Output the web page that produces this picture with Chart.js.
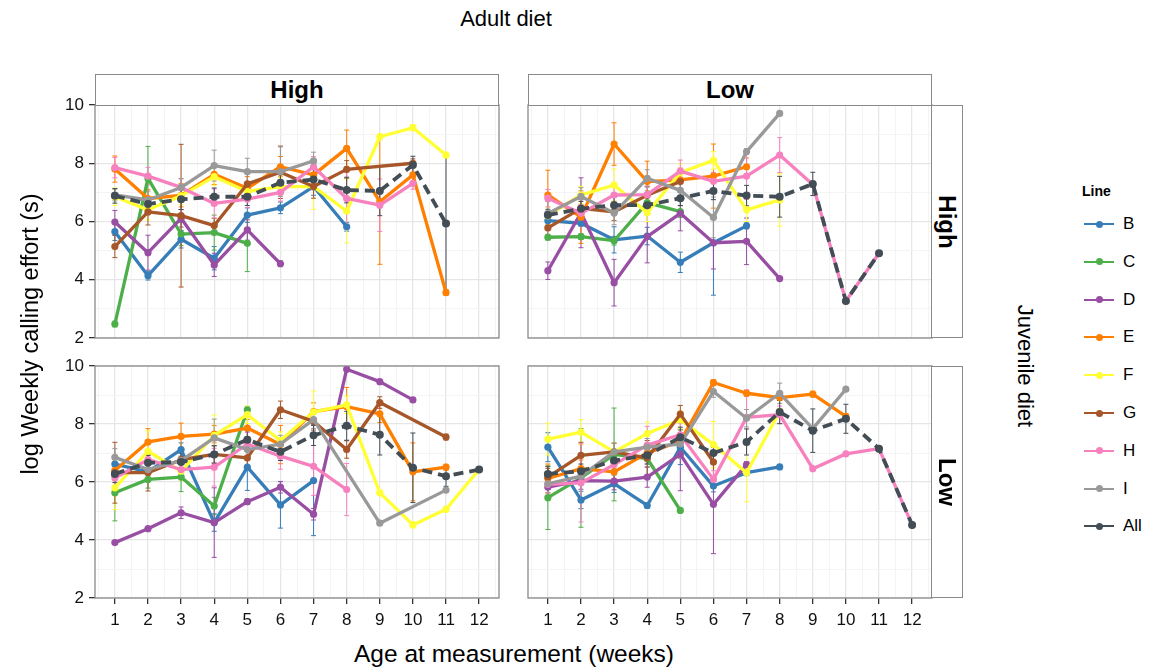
<!DOCTYPE html>
<html>
<head>
<meta charset="utf-8">
<script src="https://cdn.jsdelivr.net/npm/chart.js@4.4.1/dist/chart.umd.min.js"></script>
<style>
  body { margin: 0; background: #fff; font-family: "Liberation Sans", Arial, sans-serif; color: #000; }
  #wrap { position: relative; width: 1152px; height: 672px; overflow: hidden; }
  #wrap canvas, .txt, .strip, .kline, .kdot { position: absolute; }
  .strip { box-sizing: border-box; border: 1px solid #8a8a8a; background: #fff;
           font-weight: bold; font-size: 24px; display: flex; align-items: center; justify-content: center; }
  .vert span { display: inline-block; transform: rotate(90deg); white-space: nowrap; }
  .txt { white-space: nowrap; text-align: center; }
  .kline { height: 2px; width: 30px; }
  .kdot { width: 7px; height: 7px; border-radius: 50%; }
</style>
</head>
<body>
<div id="wrap"></div>
<script>

// =======================================
// DATA
// =======================================

const weeks = [1, 2, 3, 4, 5, 6, 7, 8, 9, 10, 11, 12];
const lines = ['B', 'C', 'D', 'E', 'F', 'G', 'H', 'I', 'All'];
const yTicks = [2, 3, 4, 5, 6, 7, 8, 9, 10];
const yLabels = [2, 4, 6, 8, 10];

const adultDiets = ['High', 'Low'];
const juvenileDiets = ['High', 'Low'];

// adult High, juvenile High (top left)
const meanAHJH = [
    [5.65, 4.14, 5.39, 4.74, 6.22, 6.47, 7.2, 5.82, null, null, null, null],
    [2.48, 7.48, 5.57, 5.62, 5.25, null, null, null, null, null, null, null],
    [5.98, 4.93, 6.11, 4.51, 5.71, 4.55, null, null, null, null, null, null],
    [7.8, 6.79, 6.9, 7.62, 7.14, 7.88, 7.6, 8.51, 6.68, 7.6, 3.56, null],
    [6.85, 6.4, 6.88, 7.54, 7.03, 7.2, 7.2, 6.36, 8.91, 9.22, 8.28, null],
    [5.14, 6.33, 6.2, 5.86, 7.29, 7.69, 7.2, 7.79, null, 8.0, null, null],
    [7.85, 7.56, 7.17, 6.62, 6.77, 7.0, 7.88, 6.79, 6.56, 7.31, null, null],
    [6.91, 6.74, 7.17, 7.92, 7.71, 7.71, 8.08, null, null, null, null, null],
    [6.88, 6.6, 6.76, 6.85, 6.85, 7.33, 7.44, 7.08, 7.05, 7.94, 5.93, null]
];
const errAHJH = [
    [0.3, 0.15, 0.3, 0.4, 0.25, 0.2, 0.3, 0.15, null, null, null, null],
    [0.1, 1.1, 0.4, 0.6, 0.97, null, null, null, null, null, null, null],
    [0.4, 0.6, 0.3, 0.4, 0.35, 0.1, null, null, null, null, null, null],
    [0.45, 0.3, 0.4, 0.35, 0.4, 0.35, 0.3, 0.63, 2.15, 0.3, 0.1, null],
    [0.3, 0.35, 0.3, 0.3, 0.3, 0.3, 0.78, 1.1, 0.1, 0.1, 0.1, null],
    [0.38, 0.45, 2.45, 0.25, 0.4, 0.9, 0.4, 0.3, null, 0.15, null, null],
    [0.35, 0.3, 0.3, 0.5, 0.3, 0.3, 0.35, 0.9, 0.9, 0.2, null, null],
    [0.2, 0.3, 0.3, 0.53, 0.46, 0.85, 0.3, null, null, null, null, null],
    [0.25, 0.2, 0.35, 0.3, 0.3, 0.35, 0.35, 0.44, 0.85, 0.3, 2.35, null]
];

// adult Low, juvenile High (top right)
const meanALJH = [
    [6.03, 5.94, 5.37, 5.5, 4.6, 5.27, 5.85, null, null, null, null, null],
    [5.46, 5.48, 5.34, 6.65, 6.34, null, null, null, null, null, null, null],
    [4.31, 6.3, 3.9, 5.48, 6.28, 5.27, 5.32, 4.04, null, null, null, null],
    [6.91, 6.15, 8.66, 7.37, 7.43, 7.56, 7.88, null, null, null, null, null],
    [6.2, 6.91, 7.25, 6.3, 7.68, 8.1, 6.4, 6.74, null, null, null, null],
    [5.78, 6.45, 6.33, 6.9, 7.37, null, null, null, null, null, null, null],
    [6.8, 6.28, 6.91, 6.92, 7.73, 7.38, 7.56, 8.28, 7.27, 3.27, 4.91, null],
    [6.28, 6.86, 6.29, 7.48, 7.07, 6.14, 8.4, 9.71, null, null, null, null],
    [6.22, 6.44, 6.56, 6.56, 6.8, 7.05, 6.89, 6.85, 7.29, 3.27, 4.91, null]
];
const errALJH = [
    [0.15, 0.1, 0.45, 0.3, 0.35, 1.8, 0.1, null, null, null, null, null],
    [0.1, 0.1, 0.15, 0.4, 0.2, null, null, null, null, null, null, null],
    [0.3, 1.2, 0.8, 0.9, 0.6, 0.9, 0.8, 0.05, null, null, null, null],
    [0.85, 0.9, 0.73, 0.7, 0.4, 1.1, 0.3, null, null, null, null, null],
    [0.3, 0.3, 0.55, 0.3, 0.3, 0.3, 0.4, 0.9, null, null, null, null],
    [0.4, 0.3, 0.3, 0.3, 0.3, null, null, null, null, null, null, null],
    [0.3, 0.3, 0.3, 0.3, 0.38, 0.3, 0.8, 0.6, 0.1, null, null, null],
    [0.4, 0.3, 0.4, 0.3, 0.3, 0.7, 0.1, 0.05, null, null, null, null],
    [0.2, 0.25, 0.3, 0.3, 0.25, 0.3, 0.35, 0.7, 0.4, null, null, null]
];

// adult High, juvenile Low (bottom left)
const meanAHJL = [
    [6.62, 6.35, 7.12, 4.6, 6.51, 5.21, 6.05, null, null, null, null, null],
    [5.63, 6.09, 6.17, 5.17, 8.49, null, null, null, null, null, null, null],
    [3.91, 4.39, 4.94, 4.6, 5.32, 5.82, 4.89, 9.89, 9.46, 8.83, null, null],
    [6.4, 7.38, 7.57, 7.65, 7.86, 7.29, 8.43, 8.6, 8.35, 6.35, 6.51, null],
    [5.8, 7.06, 6.37, 7.61, 8.32, 7.43, 8.41, 8.66, 5.63, 4.52, 5.06, 6.43],
    [6.32, 6.32, 6.77, 6.95, 6.83, 8.49, 8.09, 7.12, 8.74, null, 7.55, null],
    [6.14, 6.77, 6.43, 6.51, 7.31, 6.89, 6.54, 5.74, null, null, null, null],
    [6.85, 6.43, 6.74, 7.52, 7.12, 7.31, 8.15, null, 4.58, null, 5.72, null],
    [6.28, 6.66, 6.69, 6.95, 7.46, 7.04, 7.61, 7.94, 7.63, 6.49, 6.2, 6.43]
];
const errAHJL = [
    [0.2, 0.3, 0.23, 0.3, 0.8, 0.8, 1.9, null, null, null, null, null],
    [0.97, 0.3, 0.5, 0.3, 0.1, null, null, null, null, null, null, null],
    [0.05, 0.05, 0.2, 1.2, 0.1, 0.2, 0.2, 0.05, 0.05, 0.05, null, null],
    [0.3, 0.46, 0.46, 0.3, 0.3, 0.66, 0.3, 0.66, 0.3, 1.0, 0.1, null],
    [0.75, 0.7, 0.3, 0.7, 0.3, 0.3, 0.73, 0.3, 0.1, 0.1, 0.1, null],
    [1.05, 0.63, 0.3, 0.3, 0.3, 0.3, 0.3, 0.3, 0.2, null, 0.1, null],
    [0.3, 0.3, 0.3, 0.65, 0.4, 0.45, 1.0, 0.9, null, null, null, null],
    [0.3, 0.3, 0.3, 0.65, 0.3, 0.3, 0.3, null, 0.05, null, 0.05, null],
    [0.3, 0.25, 0.3, 0.3, 0.3, 0.3, 0.35, 0.5, 0.7, 1.2, 0.35, null]
];

// adult Low, juvenile Low (bottom right)
const meanALJL = [
    [7.2, 5.38, 5.94, 5.19, 7.2, 5.86, 6.32, 6.52, null, null, null, null],
    [5.46, 6.14, 6.95, 6.81, 5.02, null, null, null, null, null, null, null],
    [5.82, 6.05, 6.03, 6.17, 6.95, 5.23, 6.6, null, null, null, null, null],
    [6.12, 6.46, 6.35, 7.0, 7.4, 9.43, 9.06, 8.91, 9.03, 8.26, null, null],
    [7.48, 7.72, 7.04, 7.67, 8.15, 7.29, 6.32, 8.43, null, null, null, null],
    [6.17, 6.92, 7.04, 6.83, 8.34, 6.69, null, null, null, null, null, null],
    [5.92, 5.97, 6.6, 7.27, 7.63, 6.09, 8.23, 8.32, 6.46, 6.97, 7.15, 4.52],
    [5.94, 6.2, 7.04, 7.2, 7.31, 9.12, 8.2, 9.06, 7.84, 9.2, null, null],
    [6.28, 6.37, 6.74, 6.92, 7.54, 7.0, 7.38, 8.41, 7.77, 8.18, 7.15, 4.52]
];
const errALJL = [
    [0.5, 0.3, 0.3, 0.1, 0.6, 0.2, 0.1, 0.05, null, null, null, null],
    [1.1, 1.7, 1.6, 0.3, 0.05, null, null, null, null, null, null, null],
    [0.3, 0.3, 0.3, 0.35, 1.25, 1.7, 0.1, null, null, null, null, null],
    [0.5, 0.3, 0.3, 0.3, 0.4, 0.1, 0.1, 0.1, 0.1, 0.1, null, null],
    [0.55, 0.43, 0.3, 0.4, 0.3, 0.8, 1.0, 0.1, null, null, null, null],
    [0.3, 0.45, 0.3, 0.6, 0.3, 0.5, null, null, null, null, null, null],
    [0.3, 1.35, 0.3, 0.65, 0.5, 0.3, 0.95, 0.3, 0.05, 0.05, 0.05, null],
    [0.3, 0.3, 0.3, 0.3, 0.5, 0.2, 0.3, 0.35, 0.1, 0.05, null, null],
    [0.25, 0.25, 0.3, 0.3, 0.35, 0.35, 0.45, 0.4, 0.75, 0.5, null, null]
];

// =======================================
// STYLE
// =======================================

const colours = ['#377EB8', '#4DAF4A', '#984EA3', '#FF7F00', '#FFFF33',
                 '#A65628', '#F781BF', '#999999', '#424D55'];
const FONT = '"Liberation Sans", Arial, sans-serif';
const GRID_MAJOR = '#e6e6e6';
const GRID_MINOR = '#f4f4f4';
const FRAME = '#8a8a8a';

// panel boxes (chart area in page pixels)
const panels = [
    { left: 95,  top: 105, w: 404, h: 233, yAxis: true,  xAxis: false, mean: meanAHJH, err: errAHJH },
    { left: 528, top: 105, w: 404, h: 233, yAxis: false, xAxis: false, mean: meanALJH, err: errALJH },
    { left: 95,  top: 366, w: 404, h: 232, yAxis: true,  xAxis: true,  mean: meanAHJL, err: errAHJL },
    { left: 528, top: 366, w: 404, h: 232, yAxis: false, xAxis: true,  mean: meanALJL, err: errALJL }
];

const PAD = 10;
const Y_W = 45;
const X_H = 30;

const wrap = document.getElementById('wrap');

// =======================================
// PLUGINS
// =======================================

const errorBars = {
    id: 'errorBars',
    beforeDatasetsDraw(chart) {
        const { ctx, scales: { x, y } } = chart;
        ctx.save();
        ctx.lineWidth = 1;
        chart.data.datasets.forEach(ds => {
            ctx.strokeStyle = ds.borderColor;
            ds.data.forEach(p => {
                if (p.e == null) return;
                const px = x.getPixelForValue(p.x);
                const y1 = y.getPixelForValue(p.y + p.e);
                const y2 = y.getPixelForValue(p.y - p.e);
                ctx.beginPath();
                ctx.moveTo(px, y1); ctx.lineTo(px, y2);
                ctx.moveTo(px - 2.5, y1); ctx.lineTo(px + 2.5, y1);
                ctx.moveTo(px - 2.5, y2); ctx.lineTo(px + 2.5, y2);
                ctx.stroke();
            });
        });
        ctx.restore();
    }
};

const frame = {
    id: 'frame',
    afterDraw(chart) {
        const a = chart.chartArea;
        const ctx = chart.ctx;
        ctx.save();
        ctx.strokeStyle = FRAME;
        ctx.lineWidth = 1.3;
        ctx.strokeRect(a.left, a.top, a.right - a.left, a.bottom - a.top);
        ctx.restore();
    }
};

// =======================================
// PANELS
// =======================================

const xGrid = weeks.flatMap(w => [w - 0.5, w]).concat([weeks[weeks.length - 1] + 0.5]);

function makePanel(p) {

    let cv = document.createElement('canvas');
    let leftM = p.yAxis ? Y_W : 0;
    let botM = p.xAxis ? X_H : 0;
    let cw = p.w + 2 * PAD + leftM;
    let ch = p.h + 2 * PAD + botM;
    cv.width = cw; cv.height = ch;
    cv.style.width = cw + 'px'; cv.style.height = ch + 'px';
    cv.style.left = (p.left - PAD - leftM) + 'px';
    cv.style.top = (p.top - PAD) + 'px';
    wrap.appendChild(cv);

    let datasets = lines.map((name, i) => {
        let pts = [];
        weeks.forEach((w, j) => {
            if (p.mean[i][j] != null) pts.push({ x: w, y: p.mean[i][j], e: p.err[i][j] });
        });
        let isAll = name === 'All';
        return {
            label: name,
            data: pts,
            borderColor: colours[i],
            backgroundColor: colours[i],
            pointBackgroundColor: colours[i],
            borderWidth: isAll ? 3.8 : 3.3,
            borderDash: isAll ? [10, 6] : [],
            borderJoinStyle: 'round',
            pointRadius: isAll ? 4 : 3.6,
            pointBorderWidth: 0,
            order: lines.length - i,
            tension: 0
        };
    });

    new Chart(cv.getContext('2d'), {
        type: 'line',
        data: { datasets },
        options: {
            responsive: false,
            animation: false,
            events: [],
            layout: { padding: PAD },
            plugins: { legend: { display: false }, tooltip: { enabled: false } },
            scales: {
                x: {
                    type: 'linear',
                    min: 0.4,
                    max: 12.6,
                    afterBuildTicks: s => { s.ticks = xGrid.map(v => ({ value: v })); },
                    afterFit: s => { s.height = botM; s.paddingLeft = 0; s.paddingRight = 0; },
                    border: { display: false },
                    grid: {
                        color: c => Number.isInteger(c.tick.value) ? GRID_MAJOR : GRID_MINOR,
                        lineWidth: c => Number.isInteger(c.tick.value) ? 1.3 : 1,
                        drawTicks: p.xAxis,
                        tickLength: 6,
                        tickColor: c => Number.isInteger(c.tick.value) ? '#333' : 'rgba(0,0,0,0)',
                        tickWidth: 1.3
                    },
                    ticks: {
                        display: p.xAxis,
                        autoSkip: false,
                        maxRotation: 0,
                        minRotation: 0,
                        padding: 6,
                        color: '#111',
                        font: { family: FONT, size: 17 },
                        callback: v => Number.isInteger(v) ? String(v) : ''
                    }
                },
                y: {
                    type: 'linear',
                    min: 2,
                    max: 10,
                    afterBuildTicks: s => { s.ticks = yTicks.map(v => ({ value: v })); },
                    afterFit: s => { s.width = leftM; s.paddingTop = 0; s.paddingBottom = 0; },
                    border: { display: false },
                    grid: {
                        color: c => yLabels.includes(c.tick.value) ? GRID_MAJOR : GRID_MINOR,
                        lineWidth: c => yLabels.includes(c.tick.value) ? 1.3 : 1,
                        drawTicks: p.yAxis,
                        tickLength: 6,
                        tickColor: c => yLabels.includes(c.tick.value) ? '#333' : 'rgba(0,0,0,0)',
                        tickWidth: 1.3
                    },
                    ticks: {
                        display: p.yAxis,
                        autoSkip: false,
                        padding: 5,
                        color: '#111',
                        font: { family: FONT, size: 17 },
                        callback: v => yLabels.includes(v) ? String(v) : ''
                    }
                }
            }
        },
        plugins: [errorBars, frame]
    });
}

panels.forEach(makePanel);

// =======================================
// STRIPS, TITLES, LEGEND
// =======================================

function addDiv(cls, css, html) {
    let d = document.createElement('div');
    d.className = cls;
    Object.assign(d.style, css);
    d.innerHTML = html;
    wrap.appendChild(d);
    return d;
}

// top strips: adult diet
adultDiets.forEach((lab, i) => {
    let p = panels[i];
    addDiv('strip', { left: p.left + 'px', top: '74px', width: p.w + 'px', height: (p.top - 74 + 1) + 'px' }, lab);
});

// right strips: juvenile diet
juvenileDiets.forEach((lab, i) => {
    let p = panels[1 + 2 * i];
    addDiv('strip vert', { left: (p.left + p.w - 1) + 'px', top: p.top + 'px', width: '32px', height: p.h + 'px' },
        '<span>' + lab + '</span>');
});

addDiv('txt', { left: '356px', top: '6px', width: '300px', fontSize: '22px', lineHeight: '26px' }, 'Adult diet');

addDiv('txt', { left: '314px', top: '640px', width: '400px', fontSize: '24.5px', lineHeight: '28px' },
    'Age at measurement (weeks)');

addDiv('txt', { left: '-170px', top: '320px', width: '400px', fontSize: '23.5px', lineHeight: '28px',
    transform: 'rotate(-90deg)' }, 'log Weekly calling effort (s)');

addDiv('txt', { left: '875px', top: '353px', width: '300px', fontSize: '22px', lineHeight: '26px',
    transform: 'rotate(90deg)' }, 'Juvenile diet');

// legend
addDiv('txt', { left: '1082px', top: '182px', fontSize: '14px', fontWeight: 'bold', lineHeight: '18px', textAlign: 'left' }, 'Line');

lines.forEach((name, i) => {
    let cy = 224 + i * 37.8;
    addDiv('kline', { left: '1084px', top: (cy - 1) + 'px', background: colours[i] }, '');
    addDiv('kdot', { left: '1096px', top: (cy - 3.5) + 'px', background: colours[i] }, '');
    addDiv('txt', { left: '1123px', top: (cy - 10) + 'px', fontSize: '17px', lineHeight: '20px', textAlign: 'left' }, name);
});

</script>
</body>
</html>
